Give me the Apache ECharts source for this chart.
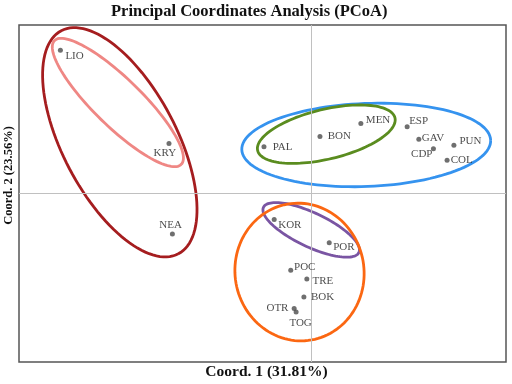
<!DOCTYPE html>
<html>
<head>
<meta charset="utf-8">
<script src="https://cdn.jsdelivr.net/npm/echarts@6/dist/echarts.min.js"></script>
<style>html,body{margin:0;padding:0;background:#fff;}#chart{width:512px;height:384px;}</style>
</head>
<body>
<div id="chart"></div>
<script>
// ---- Data ----
const sampleNames = ['LIO','KRY','NEA','PAL','BON','MEN','ESP','GAV','CDP','PUN','COL','KOR','POR','POC','TRE','BOK','OTR','TOG'];
const coord1 = [-0.515,-0.292,-0.285,-0.097,0.018,0.102,0.197,0.221,0.251,0.293,0.279,-0.076,0.037,-0.042,-0.009,-0.015,-0.035,-0.031];
const coord2 = [0.425,0.148,-0.120,0.139,0.169,0.208,0.198,0.161,0.133,0.143,0.099,-0.077,-0.146,-0.228,-0.254,-0.307,-0.341,-0.352];

// Confidence ellipses: centre and two semi-axis vectors (data units)
const ellipseCenterX = [-0.393,-0.397,0.113,0.031,0.000,-0.024];
const ellipseCenterY = [0.152,0.270,0.144,0.176,-0.108,-0.233];
const ellipseAxis1X  = [0.1202,0.1302,0.2555,0.1410,0.0980,0.0246];
const ellipseAxis1Y  = [-0.3310,-0.1836,0.0142,0.0485,-0.0670,-0.2016];
const ellipseAxis2X  = [-0.1034,-0.0343,0.0033,0.0118,-0.0149,-0.1304];
const ellipseAxis2Y  = [-0.0785,-0.0508,-0.1231,-0.0719,-0.0456,-0.0332];

const axisNameX = 'Coord. 1 (31.81%)';
const axisNameY = 'Coord. 2 (23.56%)';
const chartTitle = 'Principal Coordinates Analysis (PCoA)';

// ---- Styles / layout ----
const ELLIPSE_COLORS = ['#a51d1f','#ef8784','#3593ef','#5a8c1f','#7a55a3','#fb6712'];
const LABEL_PLACE = {
  LIO:['left',5,5.5], KRY:['center',-4.2,9], NEA:['center',-1.8,-9.3],
  PAL:['left',8.7,0], BON:['left',7.7,0], MEN:['left',5,-3.6], ESP:['left',2,-5.7],
  GAV:['left',3,-1], CDP:['right',-1,5], PUN:['left',5.6,-3.8], COL:['left',3.7,0.3],
  KOR:['left',4,5.5], POR:['left',4,4], POC:['left',3.3,-3.5], TRE:['left',5.6,1.8],
  BOK:['left',7,-0.3], OTR:['right',-5.7,0], TOG:['center',4.5,11]
};
const SERIF = '"Liberation Serif","DejaVu Serif",serif';

const pointData = sampleNames.map((n, i) => {
  const p = LABEL_PLACE[n];
  return { name: n, value: [coord1[i], coord2[i]], label: { align: p[0], offset: [p[1], p[2]] } };
});
const ellipseData = ellipseCenterX.map((c, i) => [c, ellipseCenterY[i], ellipseAxis1X[i], ellipseAxis1Y[i], ellipseAxis2X[i], ellipseAxis2Y[i]]);

function renderEllipse(params, api) {
  const cx = api.value(0), cy = api.value(1), ux = api.value(2), uy = api.value(3), vx = api.value(4), vy = api.value(5);
  const pts = [];
  const N = 120;
  for (let k = 0; k <= N; k++) {
    const t = k / N * Math.PI * 2, c = Math.cos(t), s = Math.sin(t);
    pts.push(api.coord([cx + c * ux + s * vx, cy + c * uy + s * vy]));
  }
  return { type: 'polyline', shape: { points: pts }, style: { fill: 'none', stroke: ELLIPSE_COLORS[params.dataIndex], lineWidth: 2.8 } };
}

const chart = echarts.init(document.getElementById('chart'), null, { renderer: 'canvas' });
chart.setOption({
  animation: false,
  backgroundColor: '#fff',
  title: { text: chartTitle, left: 111, top: 3, padding: 0,
    textStyle: { fontFamily: SERIF, fontWeight: 'bold', fontSize: 16.5, color: '#111' } },
  grid: { left: 19, top: 25, width: 487, height: 337, show: true, borderColor: '#555', borderWidth: 1.5,
    backgroundColor: 'transparent', containLabel: false, outerBoundsMode: 'none' },
  xAxis: { type: 'value', min: -0.6, max: 0.4,
    axisLine: { show: false, onZero: false }, axisTick: { show: false }, axisLabel: { show: false }, splitLine: { show: false },
    name: axisNameX, nameLocation: 'middle', nameGap: 2,
    nameTextStyle: { fontFamily: SERIF, fontWeight: 'bold', fontSize: 15.5, color: '#111', padding: [0, 0, 0, 8] } },
  yAxis: { type: 'value', min: -0.5, max: 0.5,
    axisLine: { show: false, onZero: false }, axisTick: { show: false }, axisLabel: { show: false }, splitLine: { show: false },
    name: axisNameY, nameLocation: 'middle', nameGap: 4,
    nameTextStyle: { fontFamily: SERIF, fontWeight: 'bold', fontSize: 12.5, color: '#111', padding: [0, 0, 0, 36] } },
  series: [
    { type: 'custom', coordinateSystem: 'cartesian2d', renderItem: renderEllipse, data: ellipseData,
      encode: { x: 0, y: 1 }, silent: true, z: 3 },
    { type: 'scatter', data: pointData, symbol: 'circle', symbolSize: 5, z: 5,
      itemStyle: { color: '#4b4b4b' },
      label: { show: true, position: 'inside', formatter: '{b}', fontFamily: SERIF, fontSize: 11, color: '#1a1a1a', verticalAlign: 'middle' },
      markLine: { silent: true, symbol: 'none', label: { show: false },
        lineStyle: { color: '#c0c0c0', width: 1, type: 'solid' },
        data: [{ xAxis: 0 }, { yAxis: 0 }] } }
  ]
});
</script>
</body>
</html>
